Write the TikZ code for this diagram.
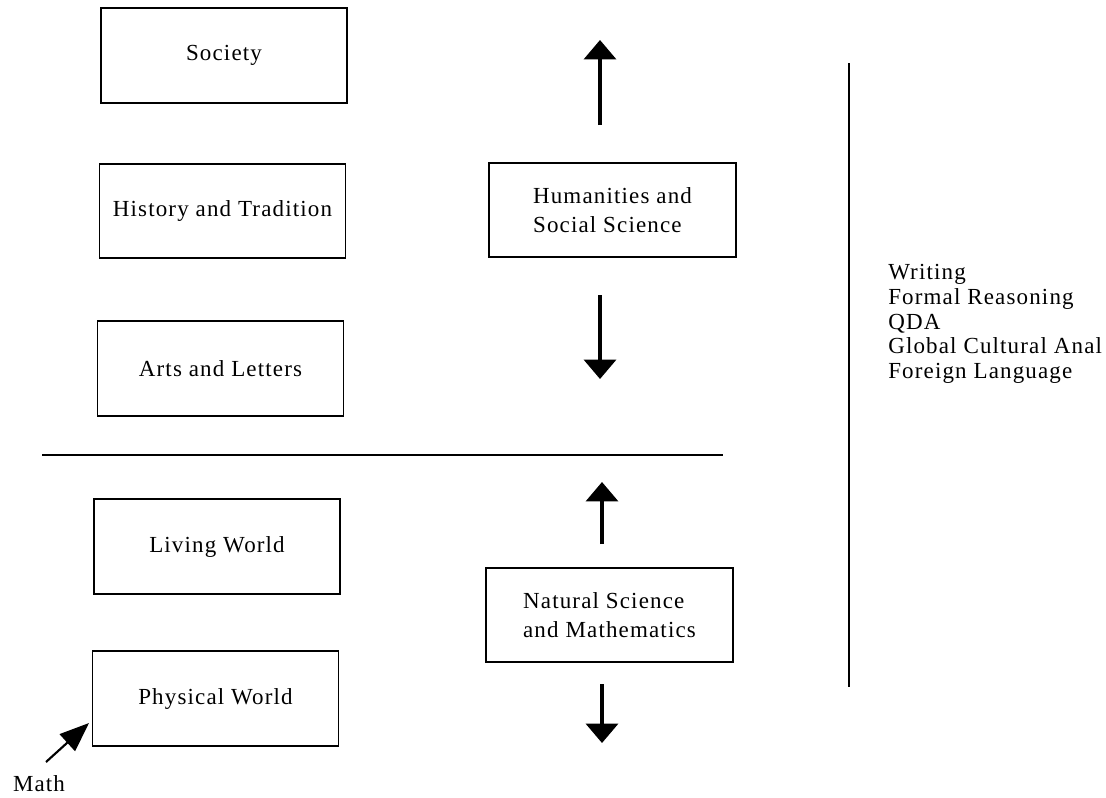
\documentclass[tikz,border=0pt]{standalone}
\usepackage{fontspec}
\setmainfont[LetterSpace=5]{Liberation Serif}
\usetikzlibrary{arrows.meta}
\tikzset{
  box/.style={draw=black, line width=1.4pt, inner sep=0pt, minimum width=184.5pt, minimum height=71pt, font=\fontsize{17.25}{21.75}\selectfont},
  txt/.style={font=\fontsize{17.25}{18.6}\selectfont, inner sep=0pt},
  bigarrow/.style={line width=2.4pt, -{Triangle[width=24pt,length=14.5pt]}},
  rule/.style={line width=2.2pt},
  matharrow/.style={line width=1.6pt, -{Triangle[width=17pt,length=22pt]}}
}
\begin{document}
\begin{tikzpicture}[x=0.75pt,y=-0.75pt]
\useasboundingbox (0,0) rectangle (1106,797);
% left column boxes
\node[box] (society) at (224,55.5) {Society};
\node[box] (history) at (222.5,211) {History and Tradition};
\node[box] (arts) at (220.5,368.5) {Arts and Letters};
\node[box] (living) at (217,546.5) {Living World};
\node[box] (physical) at (215.5,698.5) {Physical World};
% middle boxes
\node[box, align=left, minimum width=185.25pt] (hum) at (612.5,210) {Humanities and\\Social Science};
\node[box, align=left, minimum width=185.25pt] (nat) at (609.5,615) {Natural Science\\and Mathematics};
% arrows
\coordinate (a1s) at (600,125); \coordinate (a1e) at (600,40);
\coordinate (a2s) at (600,295); \coordinate (a2e) at (600,379);
\coordinate (a3s) at (602,544); \coordinate (a3e) at (602,482);
\coordinate (a4s) at (602,684); \coordinate (a4e) at (602,743);
\draw[bigarrow] (a1s) -- (a1e);
\draw[bigarrow] (a2s) -- (a2e);
\draw[bigarrow] (a3s) -- (a3e);
\draw[bigarrow] (a4s) -- (a4e);
% rules
\coordinate (h1) at (42,455); \coordinate (h2) at (723,455);
\draw[rule] (h1) -- (h2);
\coordinate (v1) at (849,63); \coordinate (v2) at (849,687);
\draw[rule] (v1) -- (v2);
% list
\node[txt, align=left, anchor=west] (list) at (888,324) {Writing\\Formal Reasoning\\QDA\\Global Cultural Anal\\Foreign Language};
% math
\node[txt] (math) at (39,784) {Math};
\coordinate (mt) at (46,762);
\coordinate (mh) at (89,723);
\draw[matharrow] (mt) -- (mh);
\end{tikzpicture}
\end{document}
